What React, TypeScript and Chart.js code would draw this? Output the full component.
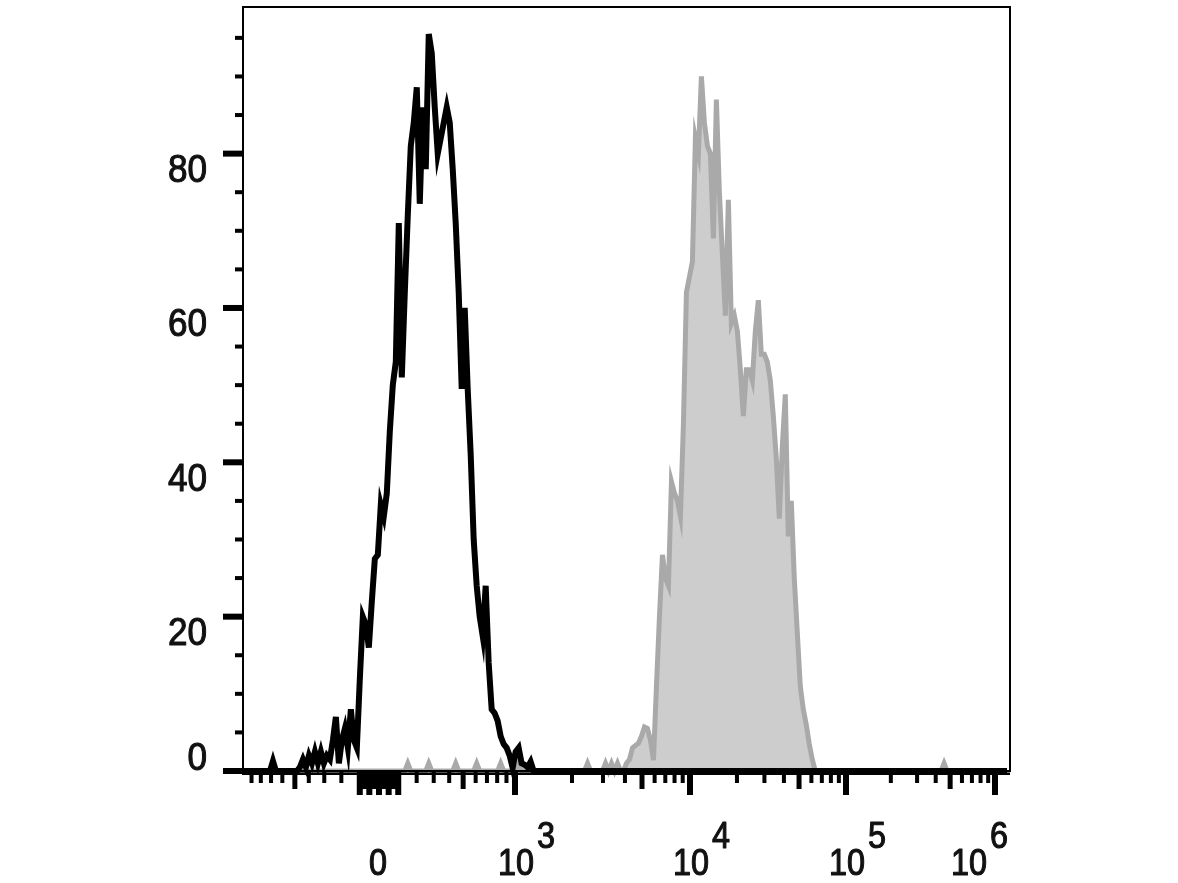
import React, { useEffect, useRef } from "react";
import { Chart, registerables } from "chart.js";

Chart.register(...registerables);

// ---- data (256 display channels of a biexponential axis, -10^3 .. ~1.26x10^6) ----
const CHANNELS = 256;

// unstained / isotype control (black outline)
const blackCounts = [
  0, 0, 0, 0, 0, 0, 0, 0, 0, 0, 1.3, 0, 0, 0, 0, 0,
  0, 0, 0, 0.5, 1.5, 0.5, 2, 1, 2.5, 1, 2.5, 1, 2, 1.5, 4, 7,
  1, 4, 5.5, 3, 8, 4, 3, 12, 20, 19, 16, 22, 27.5, 28, 34.5, 33,
  36, 44, 50, 53, 71, 51, 62, 72, 81, 84, 88.6, 73.5, 86, 78, 95.5, 93,
  86, 80, 82, 84, 86, 84, 78, 71, 62, 49.5, 60, 49.5, 41, 30, 24, 20,
  17.5, 24, 14, 8, 7.5, 6.5, 4.5, 3.5, 3, 2, 0.4, 2.5, 3, 1, 0.8, 0.5,
  1.2, 0, 0, 0, 0, 0, 0, 0, 0, 0, 0, 0, 0, 0, 0, 0,
  0, 0, 0, 0, 0, 0, 0, 0, 0, 0, 0, 0, 0, 0, 0, 0,
  0, 0, 0, 0, 0, 0, 0, 0, 0, 0, 0, 0, 0, 0, 0, 0,
  0, 0, 0, 0, 0, 0, 0, 0, 0, 0, 0, 0, 0, 0, 0, 0,
  0, 0, 0, 0, 0, 0, 0, 0, 0, 0, 0, 0, 0, 0, 0, 0,
  0, 0, 0, 0, 0, 0, 0, 0, 0, 0, 0, 0, 0, 0, 0, 0,
  0, 0, 0, 0, 0, 0, 0, 0, 0, 0, 0, 0, 0, 0, 0, 0,
  0, 0, 0, 0, 0, 0, 0, 0, 0, 0, 0, 0, 0, 0, 0, 0,
  0, 0, 0, 0, 0, 0, 0, 0, 0, 0, 0, 0, 0, 0, 0, 0,
  0, 0, 0, 0, 0, 0, 0, 0, 0, 0, 0, 0, 0, 0, 0, 0,
];

// stained sample (grey filled)
const grayCounts = [
  0, 0, 0, 0, 0, 0, 0, 0, 0, 0, 0, 0, 0, 0, 0, 0,
  0, 0, 0, 0, 0, 0, 0, 0, 0, 0, 0, 0, 0, 0, 0, 0,
  0, 0, 0, 0, 0, 0, 0, 0, 0, 0, 0, 0, 0, 0, 0, 0,
  0, 0, 0, 0, 0, 0, 0, 1, 0, 0, 0, 0, 0, 0, 1, 0,
  0, 0, 0, 0, 0, 0, 0, 1, 0, 0, 0, 0, 0, 0, 1, 0,
  0, 0, 0, 0, 0, 0, 1, 0, 0, 0, 0, 0, 1, 0, 0, 0,
  0, 0, 0, 0, 0, 0, 0, 0, 0, 0, 0, 0, 0, 0, 0, 0,
  0, 0, 0, 1, 0, 0, 0, 0, 0, 1, 0, 1, 0, 1, 0, 0,
  1, 1.5, 3, 3.3, 3.6, 4.5, 5.7, 5.5, 4, 1.4, 11, 20, 28, 25, 24, 37.5,
  36, 35, 33, 45, 62, 64, 66, 82, 80, 90, 84, 81, 80, 69, 87, 75,
  67, 59, 74, 58, 59, 57, 52, 46, 52, 52, 50.6, 57, 61, 54, 54, 53,
  50.6, 46, 40.5, 32.7, 42, 48.8, 30.4, 35, 25, 18, 11, 8, 6, 3.5, 1.5, 0,
  0, 0, 0, 0, 0, 0, 0, 0, 0, 0, 0, 0, 0, 0, 0, 0,
  0, 0, 0, 0, 0, 0, 0, 0, 0, 0, 0, 0, 0, 0, 0, 0,
  0, 0, 0, 0, 0, 0, 0, 0, 0, 0, 1, 0, 0, 0, 0, 0,
  0, 0, 0, 0, 0, 0, 0, 0, 0, 0, 0, 0, 0, 0, 0, 0,
];

// axis ticks
const yMajorTicks = [0, 20, 40, 60, 80];
const yMinorTicks = [5, 10, 15, 25, 30, 35, 45, 50, 55, 65, 70, 75, 85, 90, 95];
const yMax = 99;

const xMajorTicks = [-100, -50, 0, 50, 100, 1e3, 1e4, 1e5, 1e6];
const xMediumTicks = [-500, -75, -25, 25, 75, 500, 5e3, 5e4, 5e5];
const xMinorTicks = [
  -900, -800, -700, -600, -400, -300, -200,
  200, 300, 400, 600, 700, 800, 900,
  2e3, 3e3, 4e3, 6e3, 7e3, 8e3, 9e3,
  2e4, 3e4, 4e4, 6e4, 7e4, 8e4, 9e4,
  2e5, 3e5, 4e5, 6e5, 7e5, 8e5, 9e5,
];
const xDecadeLabels = [3, 4, 5, 6];
const X_LOW = -1000;

// ---- biexponential display transform (value -> display units) ----
function biex(v: number): number {
  const s = 465;
  const lin = 136 / Math.asinh(1000 / s);
  if (Math.abs(v) <= 1000) return Math.sign(v) * lin * Math.asinh(Math.abs(v) / s);
  if (v < 0) return -biex(-v);
  const L = Math.log10(v);
  const knots: [number, number][] = [
    [3, 136], [3.301, 193], [3.699, 263], [4, 311], [5, 467], [6, 616],
  ];
  for (let i = 0; i < knots.length - 1; i++) {
    const [a0, b0] = knots[i];
    const [a1, b1] = knots[i + 1];
    if (L <= a1) return b0 + ((L - a0) / (a1 - a0)) * (b1 - b0);
  }
  return 616 + (L - 6) * 149;
}
const SPAN = 767;
function channelOf(v: number): number {
  return ((biex(v) - biex(X_LOW)) / SPAN) * CHANNELS;
}

const FONT = '"Liberation Sans", Arial, Helvetica, sans-serif';

function condensedText(
  ctx: CanvasRenderingContext2D,
  text: string,
  x: number,
  y: number,
  size: number,
  align: CanvasTextAlign
) {
  ctx.save();
  ctx.translate(x, y);
  ctx.scale(0.9, 1);
  ctx.font = `${size}px ${FONT}`;
  ctx.textAlign = align;
  ctx.textBaseline = "alphabetic";
  ctx.lineWidth = 1.1;
  ctx.strokeStyle = ctx.fillStyle as string;
  ctx.lineJoin = "round";
  ctx.strokeText(text, 0, 0);
  ctx.fillText(text, 0, 0);
  ctx.restore();
}
function condensedWidth(ctx: CanvasRenderingContext2D, text: string, size: number) {
  ctx.save();
  ctx.font = `${size}px ${FONT}`;
  const w = ctx.measureText(text).width * 0.9;
  ctx.restore();
  return w;
}

const flowAxes = {
  id: "flowAxes",
  afterDatasetsDraw(chart: any) {
    const { ctx, chartArea: a, scales } = chart;
    const xs = scales.x;
    const ys = scales.y;
    ctx.save();
    ctx.fillStyle = "#000";

    // bottom axis band
    ctx.fillRect(a.left - 1, a.bottom + 1.5, a.right - a.left + 1, 2.5);

    // frame
    ctx.strokeStyle = "#000";
    ctx.lineWidth = 2;
    ctx.strokeRect(a.left, a.top, a.right - a.left, a.bottom - a.top);

    // y ticks
    yMajorTicks.forEach((v) => {
      const p = ys.getPixelForValue(v);
      ctx.fillRect(a.left - 20, p - 3, 20, 6);
    });
    yMinorTicks.forEach((v) => {
      const p = ys.getPixelForValue(v);
      ctx.fillRect(a.left - 8, p - 2, 8, 4);
    });

    // x ticks
    const xt = (v: number, len: number, w: number) => {
      const p = xs.getPixelForValue(channelOf(v));
      ctx.fillRect(p - w / 2, a.bottom, w, len);
    };
    xMinorTicks.forEach((v) => xt(v, 12, 4));
    xMediumTicks.forEach((v) => xt(v, 18, 5));
    xMajorTicks.forEach((v) => xt(v, 24, 6));

    // y labels
    ctx.fillStyle = "#111";
    yMajorTicks.forEach((v) => {
      const p = ys.getPixelForValue(v);
      const base = v === 0 ? p - 1 : p + 28.5;
      condensedText(ctx, String(v), 207, base, 39, "right");
    });

    // x labels
    const baseY = a.bottom + 104;
    const supY = a.bottom + 77;
    const size = 36;
    condensedText(ctx, "0", xs.getPixelForValue(channelOf(0)) - 1, baseY, size, "center");
    xDecadeLabels.forEach((d) => {
      const p = xs.getPixelForValue(channelOf(Math.pow(10, d)));
      const w10 = condensedWidth(ctx, "10", size);
      const we = condensedWidth(ctx, String(d), size);
      let left = p + 1 - w10 / 2;
      const maxRight = a.right - 2;
      if (left + w10 + 3 + we > maxRight) left = maxRight - (w10 + 3 + we);
      condensedText(ctx, "10", left, baseY, size, "left");
      condensedText(ctx, String(d), left + w10 + 3, supY, size, "left");
    });

    ctx.restore();
  },
};

export default function App() {
  const ref = useRef<HTMLCanvasElement | null>(null);
  useEffect(() => {
    if (!ref.current) return;
    const chart = new Chart(ref.current, {
      type: "line",
      data: {
        datasets: [
          {
            label: "control",
            data: blackCounts.map((y, i) => ({ x: i, y })),
            borderColor: "#000",
            borderWidth: 6,
            pointRadius: 0,
            tension: 0,
            fill: false,
            clip: false as any,
          },
          {
            label: "stained",
            data: grayCounts.map((y, i) => ({ x: i, y })),
            borderColor: "#a9a9a9",
            backgroundColor: "#cdcdcd",
            borderWidth: 5,
            pointRadius: 0,
            tension: 0,
            fill: "origin",
            clip: false as any,
          },
        ],
      },
      options: {
        responsive: false,
        maintainAspectRatio: false,
        animation: false,
        events: [],
        layout: { padding: { left: 243, right: 168, top: 7, bottom: 112 } },
        plugins: { legend: { display: false }, tooltip: { enabled: false } },
        scales: {
          x: { type: "linear", min: 0, max: CHANNELS, display: false },
          y: { type: "linear", min: 0, max: yMax, display: false },
        },
      },
      plugins: [flowAxes],
    });
    return () => chart.destroy();
  }, []);
  return (
    <div style={{ position: "absolute", left: 0, top: 0, width: 1178, height: 883, background: "#fff" }}>
      <canvas ref={ref} width={1178} height={883} style={{ display: "block" }} />
    </div>
  );
}
